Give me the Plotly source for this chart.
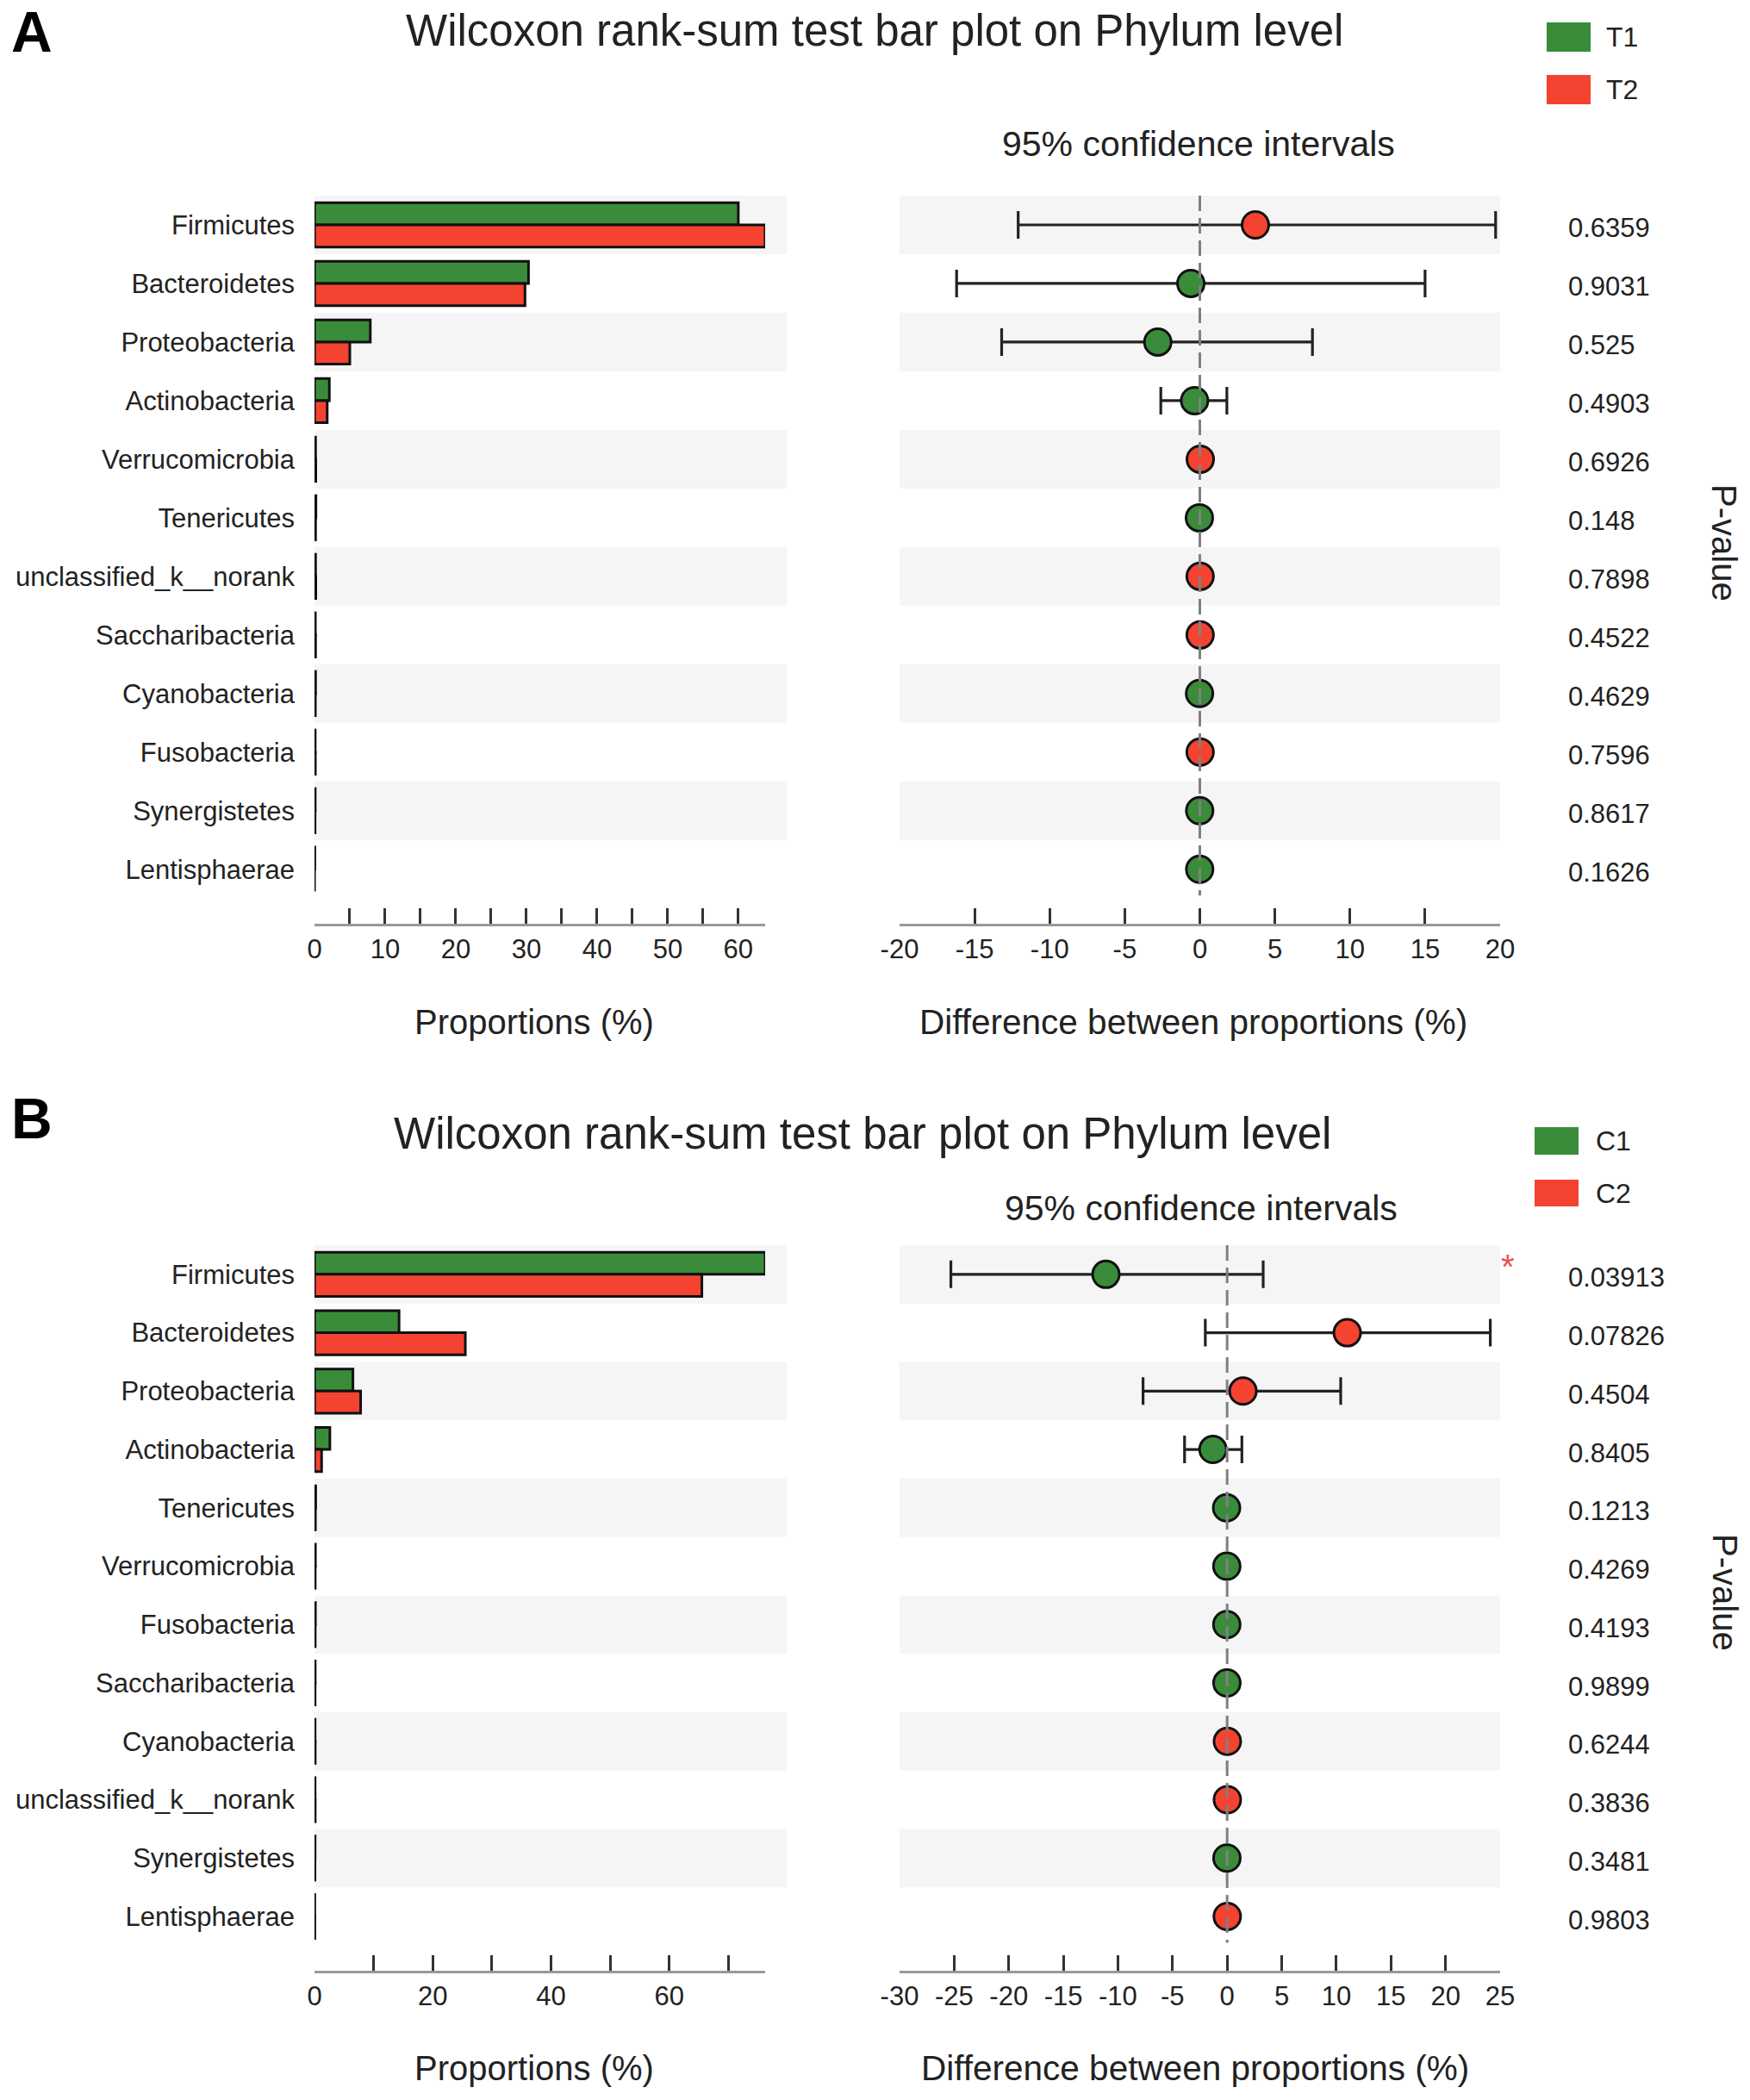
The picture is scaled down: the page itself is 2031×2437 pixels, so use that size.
import plotly.graph_objects as go

W, H = 2031, 2437
FONT = "Liberation Sans, Arial, Helvetica, sans-serif"
GREEN = "#3a8c3a"
RED = "#f44330"
TXT = "#222222"

# ---------------- Panel A data ----------------
cats_a = ["Firmicutes", "Bacteroidetes", "Proteobacteria", "Actinobacteria",
          "Verrucomicrobia", "Tenericutes", "unclassified_k__norank",
          "Saccharibacteria", "Cyanobacteria", "Fusobacteria",
          "Synergistetes", "Lentisphaerae"]
t1_a = [60.0, 30.3, 7.9, 2.1, 0.15, 0.2, 0.15, 0.12, 0.15, 0.1, 0.1, 0.05]
t2_a = [63.8, 29.8, 5.0, 1.8, 0.18, 0.15, 0.18, 0.15, 0.12, 0.12, 0.08, 0.0]
diff_a = [3.7, -0.6, -2.8, -0.35, 0.03, -0.03, 0.02, 0.02, -0.02, 0.02, -0.01, -0.01]
lo_a = [-12.1, -16.2, -13.2, -2.6, -0.1, -0.12, -0.1, -0.1, -0.08, -0.08, -0.06, -0.05]
hi_a = [19.7, 15.0, 7.5, 1.8, 0.12, 0.08, 0.1, 0.1, 0.06, 0.1, 0.05, 0.04]
p_a = ["0.6359", "0.9031", "0.525", "0.4903", "0.6926", "0.148", "0.7898",
       "0.4522", "0.4629", "0.7596", "0.8617", "0.1626"]
groups_a = ["T1", "T2"]

# ---------------- Panel B data ----------------
cats_b = ["Firmicutes", "Bacteroidetes", "Proteobacteria", "Actinobacteria",
          "Tenericutes", "Verrucomicrobia", "Fusobacteria", "Saccharibacteria",
          "Cyanobacteria", "unclassified_k__norank", "Synergistetes", "Lentisphaerae"]
c1_b = [76.2, 14.3, 6.5, 2.6, 0.2, 0.15, 0.15, 0.12, 0.1, 0.1, 0.1, 0.05]
c2_b = [65.5, 25.5, 7.8, 1.2, 0.15, 0.12, 0.12, 0.1, 0.12, 0.12, 0.08, 0.06]
diff_b = [-11.1, 11.0, 1.45, -1.3, -0.05, -0.03, -0.03, -0.02, 0.02, 0.02, -0.02, 0.01]
lo_b = [-25.3, -2.0, -7.7, -3.9, -0.25, -0.15, -0.12, -0.1, -0.1, -0.1, -0.1, -0.08]
hi_b = [3.3, 24.1, 10.4, 1.35, 0.2, 0.12, 0.1, 0.08, 0.12, 0.12, 0.08, 0.1]
p_b = ["0.03913", "0.07826", "0.4504", "0.8405", "0.1213", "0.4269", "0.4193",
       "0.9899", "0.6244", "0.3836", "0.3481", "0.9803"]
groups_b = ["C1", "C2"]

ticks_left_a = [0, 5, 10, 15, 20, 25, 30, 35, 40, 45, 50, 55, 60]
ticks_left_b = [0, 10, 20, 30, 40, 50, 60, 70]
label_every_a = 10
label_every_b = 20
ticks_right_a = [-20, -15, -10, -5, 0, 5, 10, 15, 20]
ticks_right_b = [-30, -25, -20, -15, -10, -5, 0, 5, 10, 15, 20, 25]


def px(x):
    return x / W


def py(y):
    return 1 - y / H


fig = go.Figure()
shapes = []
annotations = []


def panel(cats, g1, g2, diff, lo, hi, pvals, groups, ticks_left, label_every,
          ticks_right, xl, xr, yax, ydom_px):
    n = len(cats)
    idx = list(range(n))
    yname = "y" if yax == 1 else "y%d" % yax
    xl_name = "x" if xl == 1 else "x%d" % xl
    xr_name = "x%d" % xr
    bar_line = dict(color="#111111", width=3)
    fig.add_trace(go.Bar(y=idx, x=g1, orientation="h", name=groups[0],
                         marker=dict(color=GREEN, line=bar_line),
                         xaxis=xl_name, yaxis=yname, showlegend=False,
                         offsetgroup="a%d" % yax))
    fig.add_trace(go.Bar(y=idx, x=g2, orientation="h", name=groups[1],
                         marker=dict(color=RED, line=bar_line),
                         xaxis=xl_name, yaxis=yname, showlegend=False,
                         offsetgroup="b%d" % yax))
    colors = [RED if d > 0 else GREEN for d in diff]
    fig.add_trace(go.Scatter(
        x=diff, y=idx, mode="markers", xaxis=xr_name, yaxis=yname,
        showlegend=False,
        marker=dict(size=31, color=colors, line=dict(color="#111111", width=3)),
        error_x=dict(type="data", symmetric=False,
                     array=[h - d for h, d in zip(hi, diff)],
                     arrayminus=[d - l for l, d in zip(lo, diff)],
                     color="#222222", thickness=3.2, width=16)))

    xmax = max(max(g1), max(g2))
    tv = list(ticks_left) + [xmax]
    tt = [str(t) if t % label_every == 0 else "" for t in ticks_left] + [""]
    xdom_l = [px(365), px(888)]
    xdom_r = [px(1044), px(1741)]
    axis_common = dict(showline=True, linecolor="#999999", linewidth=3,
                       ticks="inside", ticklen=18, tickwidth=2.8, tickcolor="#333333",
                       showgrid=False, zeroline=False, automargin=False,
                       tickfont=dict(size=31, color=TXT, family=FONT),
                       anchor=yname, fixedrange=True)
    fig.update_layout(**{
        ("xaxis" if xl == 1 else "xaxis%d" % xl): dict(
            domain=xdom_l, range=[0, xmax], tickmode="array", tickvals=tv,
            ticktext=tt, **axis_common),
        "xaxis%d" % xr: dict(
            domain=xdom_r, range=[ticks_right[0], ticks_right[-1]],
            tickmode="array", tickvals=ticks_right,
            ticktext=[str(t) for t in ticks_right], **axis_common),
        ("yaxis" if yax == 1 else "yaxis%d" % yax): dict(
            domain=[py(ydom_px[1]), py(ydom_px[0])], range=[11.93, -0.5],
            tickmode="array", tickvals=idx, ticktext=cats, ticks="",
            ticklabelstandoff=22, showline=False, showgrid=False,
            zeroline=False, anchor=xl_name, fixedrange=True, automargin=False,
            tickfont=dict(size=31, color=TXT, family=FONT)),
    })
    for i in idx:
        if i % 2 == 0:
            for x0, x1 in ((365, 913), (1044, 1741)):
                shapes.append(dict(type="rect", xref="paper", yref=yname,
                                   x0=px(x0), x1=px(x1), y0=i - 0.5, y1=i + 0.5,
                                   fillcolor="#f5f5f5", line=dict(width=0),
                                   layer="below"))
    shapes.append(dict(type="line", xref=xr_name, yref=yname, x0=0, x1=0,
                       y0=-0.5, y1=n - 0.55,
                       line=dict(color="#808080", width=3, dash="18px,8px"),
                       layer="above"))
    for i, p in zip(idx, pvals):
        annotations.append(dict(text=p, xref="paper", yref=yname, x=px(1818), y=i,
                                xanchor="left", yanchor="middle", showarrow=False,
                                yshift=-4, font=dict(size=31, color=TXT, family=FONT)))


panel(cats_a, t1_a, t2_a, diff_a, lo_a, hi_a, p_a, groups_a, ticks_left_a,
      label_every_a, ticks_right_a, 1, 2, 1, (227, 1072))
panel(cats_b, c1_b, c2_b, diff_b, lo_b, hi_b, p_b, groups_b, ticks_left_b,
      label_every_b, ticks_right_b, 3, 4, 2, (1445, 2287))


def text(t, x, y, size, xanchor="center", color=TXT, angle=0):
    annotations.append(dict(text=t, xref="paper", yref="paper", x=px(x), y=py(y),
                            xanchor=xanchor, yanchor="middle", showarrow=False,
                            textangle=angle, borderpad=0,
                            font=dict(size=size, color=color, family=FONT)))


TITLE = "Wilcoxon rank-sum test bar plot on Phylum level"
text("<b>A</b>", 12, 37, 66, xanchor="left", color="#000000")
text(TITLE, 1015, 36, 51)
text("95% confidence intervals", 1391, 167, 41)
text("Proportions (%)", 620, 1186, 40)
text("Difference between proportions (%)", 1385, 1186, 40.5)
text("P-value", 2001, 630, 40, angle=90)
text("<b>B</b>", 12, 1298, 66, xanchor="left", color="#000000")
text(TITLE, 1001, 1316, 51)
text("95% confidence intervals", 1394, 1402, 41)
text("Proportions (%)", 620, 2400, 40)
text("Difference between proportions (%)", 1387, 2400, 40.5)
text("P-value", 2002, 1848, 40, angle=90)
text("*", 1750, 1470, 40, color="#f05050")

for (g, col, x0, y0, y1, tx) in (
        (groups_a[0], GREEN, 1795, 26, 60, 1863), (groups_a[1], RED, 1795, 87, 121, 1863),
        (groups_b[0], GREEN, 1781, 1308, 1340, 1851), (groups_b[1], RED, 1781, 1369, 1400, 1851)):
    shapes.append(dict(type="rect", xref="paper", yref="paper", x0=px(x0),
                       x1=px(x0 + 51), y0=py(y1), y1=py(y0), fillcolor=col,
                       line=dict(width=0)))
    text(g, tx, (y0 + y1) / 2, 32, xanchor="left")

fig.update_layout(width=W, height=H, autosize=False,
                  margin=dict(l=0, r=0, t=0, b=0, pad=0),
                  paper_bgcolor="white", plot_bgcolor="rgba(0,0,0,0)",
                  barmode="group", bargap=0.245, bargroupgap=0,
                  showlegend=False, shapes=shapes, annotations=annotations,
                  font=dict(family=FONT, color=TXT))

fig.write_html("out.html", config={"displayModeBar": False},
               post_script="document.body.style.margin='0';")
